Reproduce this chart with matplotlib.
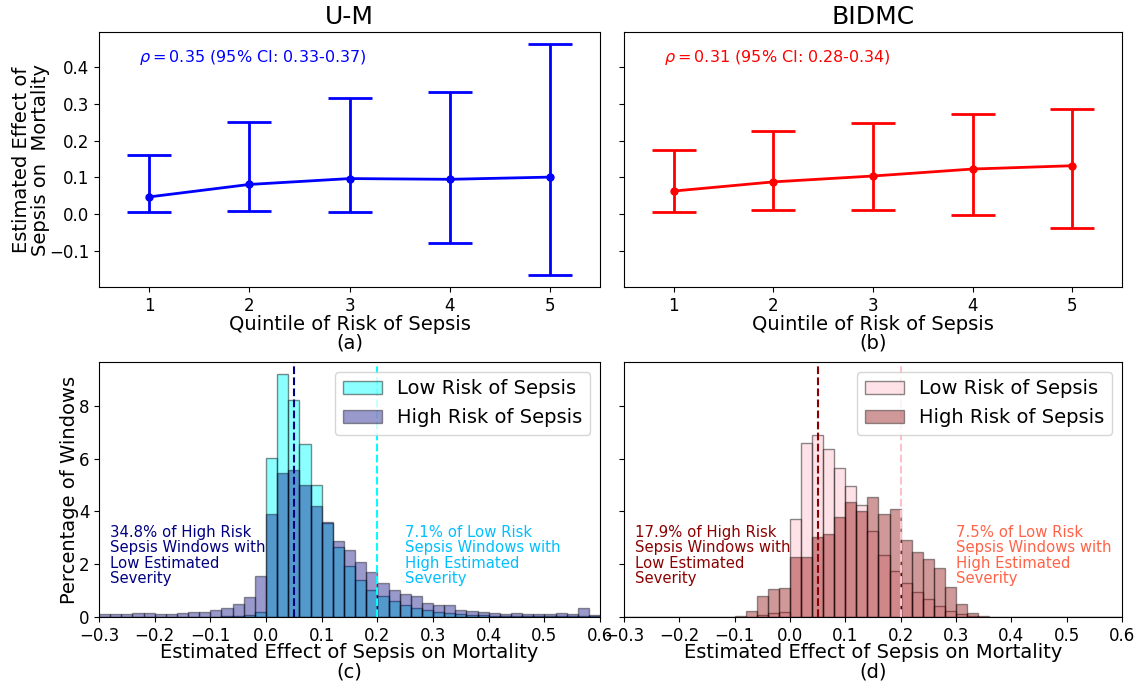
import matplotlib
matplotlib.use("Agg")
import matplotlib.pyplot as plt
import numpy as np

# quintile error bars
quintiles = [1, 2, 3, 4, 5]
um_mean = [0.047, 0.081, 0.097, 0.095, 0.101]
um_low = [0.006, 0.009, 0.007, -0.079, -0.167]
um_high = [0.160, 0.251, 0.316, 0.332, 0.465]
bid_mean = [0.063, 0.088, 0.104, 0.123, 0.132]
bid_lo = [0.007, 0.011, 0.011, -0.001, -0.038]
bid_hi = [0.174, 0.227, 0.249, 0.274, 0.288]

# histograms (bins of 0.02 from -0.30 to 0.60)
bin_edges = np.round(np.arange(-0.30, 0.6001, 0.02), 2)
um_hist_low = [0.0, 0.0, 0.0, 0.0, 0.0, 0.0, 0.0, 0.0, 0.0, 0.01,
               0.01, 0.02, 0.02, 0.06, 0.18,
               6.02, 9.20, 8.21, 6.56, 5.00,
               3.56, 2.65, 1.92, 1.41, 1.01,
               0.78, 0.59, 0.44, 0.34, 0.25,
               0.18, 0.15, 0.11, 0.08, 0.06,
               0.05, 0.04, 0.04, 0.03, 0.03,
               0.02, 0.02, 0.02, 0.02, 0.02]
um_hist_high = [0.11, 0.11, 0.13, 0.16, 0.14, 0.11, 0.11, 0.15, 0.18, 0.20,
                0.28, 0.33, 0.50, 0.76, 1.56,
                3.91, 5.45, 5.58, 5.00, 4.19,
                3.58, 2.88, 2.52, 2.10, 1.69,
                1.29, 1.01, 0.87, 0.79, 0.53,
                0.45, 0.44, 0.25, 0.21, 0.19,
                0.15, 0.11, 0.16, 0.13, 0.11,
                0.11, 0.14, 0.11, 0.35, 0.08]
bid_hist_low = [0.0] * 10 + [0.0, 0.0, 0.09, 0.15, 0.19,
                             3.72, 6.59, 6.88, 6.37, 5.64,
                             4.98, 4.25, 3.24, 2.36, 1.75,
                             1.29, 0.95, 0.67, 0.40, 0.23,
                             0.11, 0.05, 0.01] + [0.0] * 12
bid_hist_high = [0.0] * 10 + [0.04, 0.21, 0.78, 1.06, 1.09,
                              2.27, 2.27, 3.03, 3.14, 3.80,
                              4.35, 4.03, 4.54, 3.91, 4.10,
                              2.90, 2.47, 2.21, 1.84, 1.15,
                              0.49, 0.15, 0.04] + [0.0] * 12

fig = plt.figure(figsize=(11.43, 6.85), dpi=100)
ax1 = fig.add_axes([0.0866, 0.581, 0.4384, 0.3723])
ax2 = fig.add_axes([0.5459, 0.581, 0.4357, 0.3723], sharey=ax1)
ax3 = fig.add_axes([0.0866, 0.0993, 0.4384, 0.3723])
ax4 = fig.add_axes([0.5459, 0.0993, 0.4357, 0.3723], sharey=ax3)

# top row: error bars per quintile
def quint_plot(ax, mean, lo, hi, color, title, rho, sub):
    mean = np.array(mean)
    yerr = [mean - np.array(lo), np.array(hi) - mean]
    ax.errorbar(quintiles, mean, yerr=yerr, color=color, marker='o', ms=5,
                lw=2, elinewidth=2, capsize=16, capthick=2)
    ax.set_xlim(0.5, 5.5)
    ax.set_xticks(quintiles)
    ax.set_title(title, fontsize=18)
    ax.set_xlabel('Quintile of Risk of Sepsis\n' + sub, fontsize=14,
                  labelpad=0, linespacing=1.0)
    ax.text(0.08, 0.9, rho, color=color, fontsize=11.5, transform=ax.transAxes,
            va='center')
    ax.tick_params(labelsize=12)

quint_plot(ax1, um_mean, um_low, um_high, 'blue', 'U-M',
           r'$\rho=$0.35 (95% CI: 0.33-0.37)', '(a)')
quint_plot(ax2, bid_mean, bid_lo, bid_hi, 'red', 'BIDMC',
           r'$\rho=$0.31 (95% CI: 0.28-0.34)', '(b)')
ax1.set_ylabel('Estimated Effect of\nSepsis on  Mortality', fontsize=14,
               linespacing=1.0, labelpad=-1)
ax2.tick_params(labelleft=False)

# bottom row: histograms
def hist_plot(ax, low, high, c_low, c_high, a_low, a_high, l_lo, l_hi,
              t_lo, t_hi, x_hi, sub):
    ax.hist(bin_edges[:-1], bins=bin_edges, weights=low, color=c_low,
            alpha=a_low, edgecolor='black', label='Low Risk of Sepsis')
    ax.hist(bin_edges[:-1], bins=bin_edges, weights=high, color=c_high,
            alpha=a_high, edgecolor='black', label='High Risk of Sepsis')
    ax.axvline(0.05, color=l_lo, ls='--')
    ax.axvline(0.2, color=l_hi, ls='--')
    ax.set_xlim(-0.3, 0.6)
    ax.set_xticks(np.round(np.arange(-0.3, 0.61, 0.1), 1))
    ax.tick_params(labelsize=12)
    ax.set_xlabel('Estimated Effect of Sepsis on Mortality\n' + sub,
                  fontsize=14, labelpad=-1, linespacing=1.0)
    ax.legend(loc='upper right', fontsize=14)
    ax.text(-0.28, 3.5, t_lo[0], color=t_lo[1], fontsize=10.75, va='top',
            linespacing=1.05)
    ax.text(x_hi, 3.5, t_hi[0], color=t_hi[1], fontsize=10.75, va='top',
            linespacing=1.05)

hist_plot(ax3, um_hist_low, um_hist_high, 'cyan', 'navy', 0.45, 0.4,
          'navy', 'cyan',
          ('34.8% of High Risk\nSepsis Windows with\nLow Estimated\nSeverity', 'navy'),
          ('7.1% of Low Risk\nSepsis Windows with\nHigh Estimated\nSeverity', 'deepskyblue'),
          0.25, '(c)')
hist_plot(ax4, bid_hist_low, bid_hist_high, 'pink', 'darkred', 0.45, 0.4,
          'darkred', 'pink',
          ('17.9% of High Risk\nSepsis Windows with\nLow Estimated\nSeverity', 'darkred'),
          ('7.5% of Low Risk\nSepsis Windows with\nHigh Estimated\nSeverity', 'tomato'),
          0.30, '(d)')
ax3.set_ylabel('Percentage of Windows', fontsize=14, labelpad=0)
ax3.set_yticks([0, 2, 4, 6, 8])
ax4.tick_params(labelleft=False)

fig.savefig('out.png', dpi=100)
